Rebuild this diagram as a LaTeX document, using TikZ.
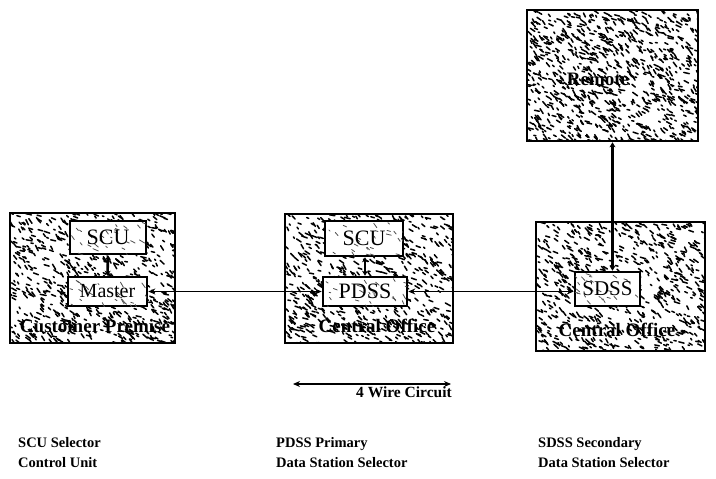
\documentclass[tikz,border=0pt]{standalone}
\usepackage{fontspec}
\setmainfont{Liberation Serif}
\usetikzlibrary{arrows.meta}
\tikzset{
  outerbox/.style={draw, line width=2.6pt, inner sep=0pt},
  innerbox/.style={draw, line width=2.6pt, fill=white, inner sep=0pt},
  innertext/.style={inner sep=0pt, font=\fontsize{22}{24}\selectfont},
  speckline/.style={line width=1.5pt, line cap=round, black},
  lightspeck/.style={line width=0.8pt, line cap=round, black!70},
  boxlabel/.style={inner sep=0pt, font=\bfseries\fontsize{19}{21}\selectfont},
  legend/.style={inner sep=0pt, anchor=base west, font=\bfseries\fontsize{14.5}{16}\selectfont},
  thinlink/.style={line width=1.1pt, {Stealth[length=7pt,width=6pt]}-{Stealth[length=7pt,width=6pt]}},
  thicklink/.style={line width=2.2pt, {Stealth[length=5pt,width=6pt]}-{Stealth[length=5pt,width=6pt]}},
}
% random texture: x1 y1 x2 y2 count seed style
\newcommand\mytexture[7]{%
  \begin{scope}
    \clip (#1,#2) rectangle (#3,#4);
    \pgfmathsetseed{#6}
    \foreach \k in {1,...,#5}{%
      \pgfmathsetmacro\sx{#1+rnd*(#3-#1)}%
      \pgfmathsetmacro\sy{#2+rnd*(#4-#2)}%
      \pgfmathsetmacro\sa{10+rnd*55}%
      \pgfmathsetmacro\sl{1.5+rnd*4.5}%
      \draw[#7] (\sx,\sy) -- ++(\sa:\sl);
    }
  \end{scope}}
\begin{document}
\begin{tikzpicture}[x=1pt,y=-1pt]
\useasboundingbox (0,0) rectangle (716,479);

% outer boxes with texture
\mytexture{10}{213}{175}{343}{650}{11}{speckline}
\node[outerbox, minimum width=165pt, minimum height=130pt] (cp) at (92.5,278) {};
\mytexture{285}{214}{453}{343}{650}{23}{speckline}
\node[outerbox, minimum width=168pt, minimum height=129pt] (co1) at (369,278.5) {};
\mytexture{536}{222}{705}{351}{650}{37}{speckline}
\node[outerbox, minimum width=169pt, minimum height=129pt] (co2) at (620.5,286.5) {};
\mytexture{527}{10}{698}{141}{850}{51}{speckline}
\node[outerbox, minimum width=171pt, minimum height=131pt] (rem) at (612.5,75.5) {};

% inner boxes
\node[innerbox, minimum width=76pt, minimum height=33pt] (scuL) at (108,237.5) {};
\mytexture{70}{221}{146}{254}{25}{61}{lightspeck}
\node[innertext] (scuLt) at (scuL) {SCU};
\node[innerbox, minimum width=79pt, minimum height=29pt] (master) at (107.5,291.5) {};
\mytexture{68}{277}{147}{306}{25}{67}{lightspeck}
\node[innertext, font=\fontsize{20}{24}\selectfont] (mastert) at (master) {Master};

\node[innerbox, minimum width=78pt, minimum height=35pt] (scuM) at (364,238.5) {};
\mytexture{325}{221}{403}{256}{25}{71}{lightspeck}
\node[innertext] (scuMt) at (scuM) {SCU};
\node[innerbox, minimum width=84pt, minimum height=29pt] (pdss) at (365,291.5) {};
\mytexture{323}{277}{407}{306}{25}{73}{lightspeck}
\node[innertext] (pdsst) at (pdss) {PDSS};

\node[innerbox, minimum width=65pt, minimum height=34pt] (sdss) at (607.5,289) {};
\mytexture{575}{272}{640}{306}{25}{79}{lightspeck}
\node[innertext, font=\fontsize{21}{24}\selectfont] (sdsst) at (sdss) {SDSS};

% labels in outer boxes
\node[boxlabel] (cpl) at (95,326) {Customer Premise};
\node[boxlabel] (co1l) at (377,326) {Central Office};
\node[boxlabel] (co2l) at (617,330) {Central Office};
\node[boxlabel] (reml) at (598,79) {Remote};

% connectors
\draw[thicklink, line width=2.6pt] (scuL.south) -- (master.north);
\draw[thicklink, line width=2.6pt] (scuM.south -| pdss.north) -- (pdss.north);
\draw[thinlink] (master.east) -- (master.east -| pdss.west);
\draw[thinlink] (pdss.east) -- (pdss.east -| sdss.west);
\draw[thicklink] (rem.south) -- (rem.south |- sdss.north);

% 4 wire circuit
\coordinate (w1) at (293,384);
\coordinate (w2) at (451,384);
\draw[thinlink] (w1) -- (w2);
\node[inner sep=0pt, anchor=north east, font=\bfseries\fontsize{15.5}{17}\selectfont] (wl) at (452,387) {4 Wire Circuit};

% legend
\node[legend] (l1a) at (18,447) {SCU Selector};
\node[legend] (l1b) at (18,467) {Control Unit};
\node[legend] (l2a) at (276,447) {PDSS Primary};
\node[legend] (l2b) at (276,467) {Data Station Selector};
\node[legend] (l3a) at (538,447) {SDSS Secondary};
\node[legend] (l3b) at (538,467) {Data Station Selector};
\end{tikzpicture}
\end{document}
